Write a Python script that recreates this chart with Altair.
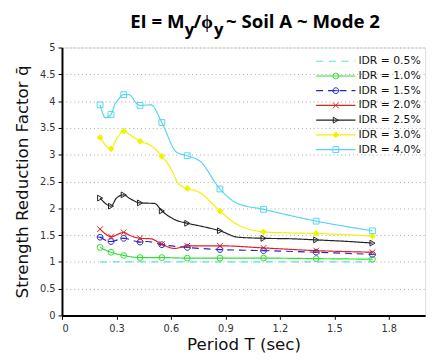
import altair as alt
import pandas as pd

# ---------------- data ----------------
series = ["IDR = 0.5%", "IDR = 1.0%", "IDR = 1.5%", "IDR = 2.0%",
          "IDR = 2.5%", "IDR = 3.0%", "IDR = 4.0%"]

marker_T = [0.21, 0.27, 0.34, 0.43, 0.55, 0.69, 0.87, 1.11, 1.40, 1.71]

T_05 = [0.21, 0.27, 0.34, 0.43, 0.55, 0.69, 0.87, 1.11, 1.40, 1.71]
q_05 = [1.00, 1.00, 1.00, 1.00, 1.00, 1.00, 1.00, 1.00, 1.00, 1.00]

T_10 = [0.21, 0.24, 0.27, 0.34, 0.43, 0.55, 0.69, 0.87, 1.11, 1.40, 1.71]
q_10 = [1.27, 1.22, 1.18, 1.12, 1.08, 1.08, 1.07, 1.07, 1.07, 1.06, 1.05]

T_15 = [0.21, 0.27, 0.34, 0.43, 0.47, 0.55, 0.69, 0.87, 1.11, 1.40, 1.71]
q_15 = [1.46, 1.38, 1.44, 1.37, 1.38, 1.32, 1.27, 1.23, 1.21, 1.18, 1.14]

T_20 = [0.21, 0.24, 0.27, 0.34, 0.37, 0.43, 0.49, 0.55, 0.62, 0.69, 0.87, 1.11, 1.40, 1.71]
q_20 = [1.61, 1.52, 1.47, 1.55, 1.50, 1.44, 1.43, 1.33, 1.25, 1.30, 1.30, 1.26, 1.21, 1.18]

T_25 = [0.21, 0.27, 0.30, 0.34, 0.37, 0.43, 0.51, 0.55, 0.62, 0.69, 0.76, 0.87,
        0.97, 1.11, 1.27, 1.40, 1.58, 1.71]
q_25 = [2.19, 2.04, 2.19, 2.25, 2.19, 2.10, 2.09, 1.95, 1.79, 1.72, 1.67, 1.58,
        1.46, 1.44, 1.43, 1.41, 1.38, 1.35]

T_30 = [0.21, 0.27, 0.30, 0.34, 0.37, 0.43, 0.49, 0.55, 0.60, 0.64, 0.69, 0.75,
        0.87, 0.95, 1.11, 1.25, 1.40, 1.71]
q_30 = [3.32, 3.11, 3.29, 3.44, 3.38, 3.25, 3.17, 2.97, 2.74, 2.47, 2.37, 2.31,
        1.95, 1.73, 1.56, 1.54, 1.53, 1.48]

T_40 = [0.21, 0.24, 0.27, 0.29, 0.31, 0.34, 0.37, 0.41, 0.43, 0.49, 0.55, 0.63,
        0.69, 0.76, 0.87, 0.96, 1.11, 1.40, 1.71]
q_40 = [3.93, 3.69, 3.75, 3.93, 4.03, 4.12, 4.12, 3.96, 3.92, 3.93, 3.60, 3.05,
        2.98, 2.88, 2.36, 2.10, 1.98, 1.76, 1.58]

x_ticks = [0, 0.3, 0.6, 0.9, 1.2, 1.5, 1.8]
y_ticks = [0, 0.5, 1, 1.5, 2, 2.5, 3, 3.5, 4, 4.5, 5]

colors = ["#55e6d8", "#33dd33", "#2626cc", "#e02020", "#222222", "#f2f200", "#55d6ee"]
dashes = [[7, 6], [1, 0], [7, 5], [1, 0], [1, 0], [1, 0], [1, 0]]
theta_path = "M-1,0A1,1 0 1,0 1,0A1,1 0 1,0 -1,0M-1,0L1,0"
x_path = "M-1,-1L1,1M1,-1L-1,1"
shapes = ["circle", "circle", theta_path, x_path, "triangle-right", "diamond", "square"]
fills = ["transparent", "transparent", "transparent", "transparent",
         "transparent", "#f2f200", "transparent"]

all_T = [T_05, T_10, T_15, T_20, T_25, T_30, T_40]
all_q = [q_05, q_10, q_15, q_20, q_25, q_30, q_40]

rows = []
for s, Ts, qs in zip(series, all_T, all_q):
    for t, q in zip(Ts, qs):
        rows.append({"T": t, "q": q, "series": s,
                     "marker": (t in marker_T) and s != series[0]})
df = pd.DataFrame(rows)
df_m = df[df["marker"]]

leg = pd.DataFrame({"series": series, "idx": list(range(len(series)))})
leg_m = leg[leg["series"] != series[0]]

# ---------------- scales ----------------
FONT = "DejaVu Sans"
xs = alt.Scale(domain=[0, 2], nice=False)
ys = alt.Scale(domain=[0, 5], nice=False)
cs = alt.Scale(domain=series, range=colors)
ds = alt.Scale(domain=series, range=dashes)
ss = alt.Scale(domain=series, range=shapes)
fs = alt.Scale(domain=series, range=fills)
ly = alt.Scale(domain=[0, 6], range=[14, 104])

xaxis = alt.Axis(values=x_ticks, format=".1~f", title="Period T (sec)",
                 grid=False, domainColor="black", domainWidth=2,
                 tickColor="black", tickSize=4, labelFontSize=10, labelColor="#333",
                 labelFont=FONT, titleFont=FONT, titleFontSize=17,
                 titleFontWeight="normal", titleColor="#111", titlePadding=4,
                 labelPadding=4)
yaxis = alt.Axis(values=y_ticks, format="~g", title="Strength Reduction Factor q\u0304",
                 grid=True, gridDash=[1, 3], gridColor="#aaa", gridWidth=1,
                 domainColor="black", domainWidth=2, tickColor="black", tickSize=4,
                 labelFontSize=10, labelColor="#333", labelFont=FONT,
                 titleFont=FONT, titleFontSize=17, titleFontWeight="normal",
                 titleColor="#111", titlePadding=8, labelPadding=3)

lines = alt.Chart(df).mark_line(strokeWidth=1.2, interpolate="monotone").encode(
    x=alt.X("T:Q", scale=xs, axis=xaxis),
    y=alt.Y("q:Q", scale=ys, axis=yaxis),
    color=alt.Color("series:N", scale=cs, legend=None),
    strokeDash=alt.StrokeDash("series:N", scale=ds, legend=None),
    detail="series:N",
)

points = alt.Chart(df_m).mark_point(size=35, strokeWidth=1, opacity=1).encode(
    x=alt.X("T:Q", scale=xs),
    y=alt.Y("q:Q", scale=ys, axis=None),
    shape=alt.Shape("series:N", scale=ss, legend=None),
    stroke=alt.Stroke("series:N", scale=cs, legend=None),
    fill=alt.Fill("series:N", scale=fs, legend=None),
)

leg_rule = alt.Chart(leg).mark_rule(strokeWidth=1.2).encode(
    x=alt.value(259), x2=alt.value(299),
    y=alt.Y("idx:Q", scale=ly, axis=None),
    color=alt.Color("series:N", scale=cs, legend=None),
    strokeDash=alt.StrokeDash("series:N", scale=ds, legend=None),
)
leg_pt = alt.Chart(leg_m).mark_point(size=35, strokeWidth=1, opacity=1).encode(
    x=alt.value(279),
    y=alt.Y("idx:Q", scale=ly, axis=None),
    shape=alt.Shape("series:N", scale=ss, legend=None),
    stroke=alt.Stroke("series:N", scale=cs, legend=None),
    fill=alt.Fill("series:N", scale=fs, legend=None),
)
leg_txt = alt.Chart(leg).mark_text(align="left", baseline="middle", fontSize=11,
                                   font=FONT, color="#111").encode(
    x=alt.value(302),
    y=alt.Y("idx:Q", scale=ly, axis=None),
    text="series:N",
)

one = pd.DataFrame({"a": [0]})
TF = "Open Sans"
def ttl(txt, x, y, align, size=19):
    return alt.Chart(one).mark_text(text=txt, align=align, baseline="alphabetic",
                                    font=TF, fontSize=size, fontWeight="bold",
                                    color="#000").encode(x=alt.value(x), y=alt.value(y))

title_layers = [
    ttl("EI = M", 125, -20, "right"),
    ttl("y", 125, -13, "left", 17),
    ttl("/\u03d5", 134, -20, "left"),
    ttl("y", 155, -13, "left", 17),
    ttl("~ Soil A ~ Mode 2", 167, -20, "left"),
]

chart = alt.layer(lines, points, leg_rule, leg_pt, leg_txt, *title_layers).resolve_scale(
    y="independent"
).properties(
    width=370, height=273,
    autosize=alt.AutoSizeParams(type="none"),
    padding={"left": 55, "top": 37, "right": 7, "bottom": 35},
).configure_view(strokeWidth=0).configure(background="white")

chart.save("out.html", embed_options={"renderer": "svg", "actions": False})
